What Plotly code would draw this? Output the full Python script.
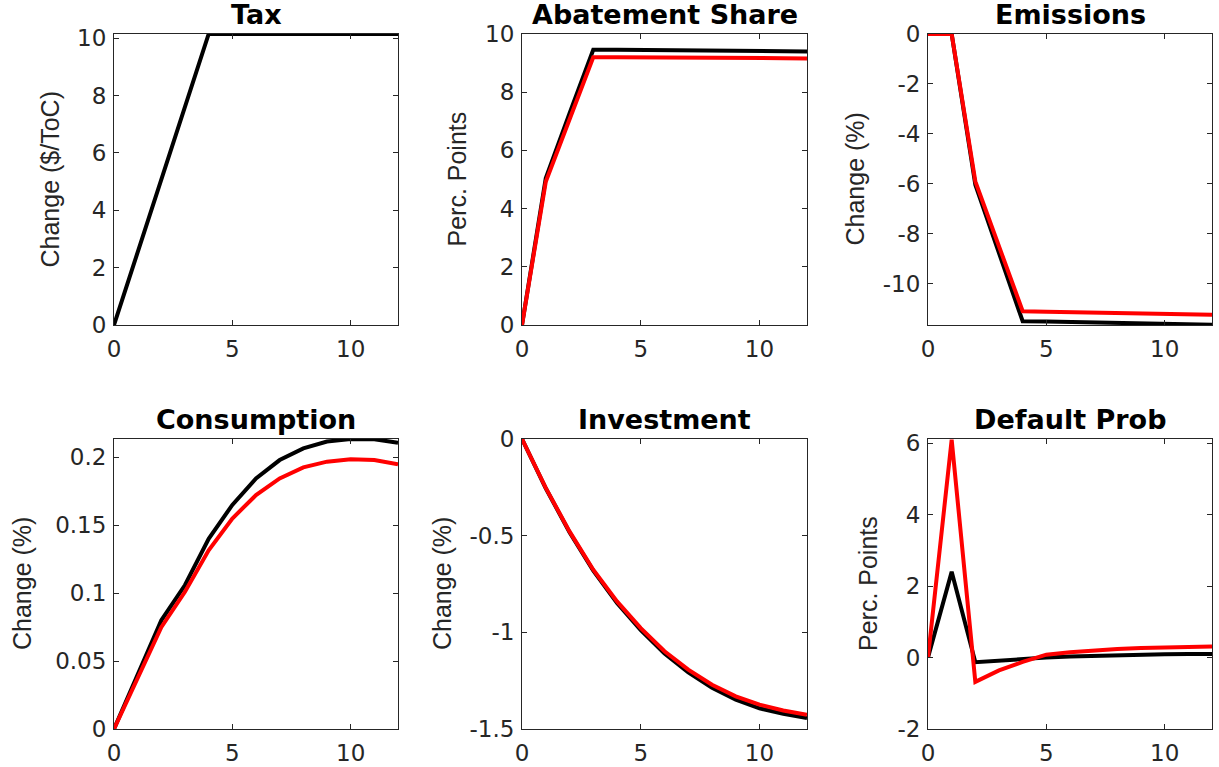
import plotly.graph_objects as go

t = list(range(13))

tax_black = [0, 2.54, 5.08, 7.61, 10.15, 10.15, 10.15, 10.15, 10.15, 10.15, 10.15, 10.15, 10.15]

abate_black = [0, 5.04, 7.27, 9.46, 9.46, 9.45, 9.45, 9.44, 9.43, 9.43, 9.42, 9.41, 9.40]
abate_red = [0, 4.92, 7.06, 9.20, 9.20, 9.20, 9.19, 9.19, 9.18, 9.18, 9.17, 9.17, 9.16]

emis_black = [0, 0, -6.04, -8.80, -11.50, -11.51, -11.53, -11.55, -11.57, -11.59, -11.61, -11.63, -11.64]
emis_red = [0, 0, -5.90, -8.50, -11.10, -11.12, -11.14, -11.15, -11.17, -11.19, -11.21, -11.23, -11.24]

cons_black = [0, 0.040, 0.080, 0.106, 0.140, 0.165, 0.1845, 0.198, 0.2066, 0.2116, 0.2135, 0.2133, 0.2108]
cons_red = [0, 0.037, 0.075, 0.101, 0.1316, 0.155, 0.1722, 0.1845, 0.1926, 0.1968, 0.1985, 0.198, 0.1948]

inv_black = [0, -0.255, -0.482, -0.681, -0.848, -0.988, -1.110, -1.207, -1.287, -1.348, -1.393, -1.421, -1.443]
inv_red = [0, -0.253, -0.478, -0.676, -0.840, -0.978, -1.098, -1.193, -1.271, -1.331, -1.374, -1.404, -1.426]

def_black = [0, 2.40, -0.13, -0.08, -0.04, 0.0, 0.03, 0.05, 0.07, 0.08, 0.09, 0.10, 0.10]
def_red = [0, 6.10, -0.68, -0.36, -0.12, 0.08, 0.15, 0.20, 0.24, 0.27, 0.29, 0.30, 0.31]

titles = ["Tax", "Abatement Share", "Emissions", "Consumption", "Investment", "Default Prob"]
ylabels = ["Change ($/ToC)", "Perc. Points", "Change (%)", "Change (%)", "Change (%)", "Perc. Points"]

xtick_vals = [0, 5, 10]
xtick_text = ["0", "5", "10"]

ytick_vals = [
    [0, 2, 4, 6, 8, 10],
    [0, 2, 4, 6, 8, 10],
    [-10, -8, -6, -4, -2, 0],
    [0, 0.05, 0.1, 0.15, 0.2],
    [-1.5, -1, -0.5, 0],
    [-2, 0, 2, 4, 6],
]
ytick_text = [
    ["0", "2", "4", "6", "8", "10"],
    ["0", "2", "4", "6", "8", "10"],
    ["-10", "-8", "-6", "-4", "-2", "0"],
    ["0", "0.05", "0.1", "0.15", "0.2"],
    ["-1.5", "-1", "-0.5", "0"],
    ["-2", "0", "2", "4", "6"],
]
y_ranges = [[0, 10.15], [0, 10], [-11.65, 0], [0, 0.2135], [-1.5, 0], [-2, 6.12]]

series = [
    (tax_black, None),
    (abate_black, abate_red),
    (emis_black, emis_red),
    (cons_black, cons_red),
    (inv_black, inv_red),
    (def_black, def_red),
]

W, H = 1219, 767
col_px = [(114, 398), (522, 807), (928, 1212)]
row_px = [(34, 325), (439, 729)]
ylab_offset = [64, 65, 73, 92, 80, 60]


def px(xp):
    return xp / W


def py(yp):
    return 1 - yp / H


fig = go.Figure()
axis_color = "#262626"
tick_font = dict(family="DejaVu Sans, Liberation Sans, Arial", size=23, color=axis_color)

for i in range(6):
    r, c = divmod(i, 3)
    n = i + 1
    xa = "x" if n == 1 else f"x{n}"
    ya = "y" if n == 1 else f"y{n}"
    black, red = series[i]
    fig.add_trace(go.Scatter(x=t, y=black, mode="lines", line=dict(color="black", width=4),
                             xaxis=xa, yaxis=ya, showlegend=False, hoverinfo="skip"))
    if red is not None:
        fig.add_trace(go.Scatter(x=t, y=red, mode="lines", line=dict(color="#ff0000", width=4),
                                 xaxis=xa, yaxis=ya, showlegend=False, hoverinfo="skip"))
    x0, x1 = col_px[c]
    y0, y1 = row_px[r]
    xdom = [px(x0), px(x1)]
    ydom = [py(y1), py(y0)]
    xkey = "xaxis" if n == 1 else f"xaxis{n}"
    ykey = "yaxis" if n == 1 else f"yaxis{n}"
    fig.update_layout(**{
        xkey: dict(domain=xdom, anchor=ya, range=[0, 12], tickvals=xtick_vals, ticktext=xtick_text,
                   showline=True, linecolor=axis_color, linewidth=1, mirror="ticks",
                   ticks="inside", ticklen=5, tickcolor=axis_color, showgrid=False, zeroline=False,
                   tickfont=tick_font, ticklabelstandoff=3, automargin=False),
        ykey: dict(domain=ydom, anchor=xa, range=y_ranges[i], tickvals=ytick_vals[i], ticktext=ytick_text[i],
                   showline=True, linecolor=axis_color, linewidth=1, mirror="ticks",
                   ticks="inside", ticklen=5, tickcolor=axis_color, showgrid=False, zeroline=False,
                   tickfont=tick_font, ticklabelstandoff=2, automargin=False),
    })
    # panel title
    fig.add_annotation(text=f"<b>{titles[i]}</b>", x=px((x0 + x1) / 2), y=py(y0 - 20),
                       xref="paper", yref="paper", xanchor="center", yanchor="middle", showarrow=False,
                       font=dict(family="DejaVu Sans, Liberation Sans, Arial", size=27, color="black"))
    # y-axis label
    fig.add_annotation(text=ylabels[i], x=px(x0 - ylab_offset[i]), y=py((y0 + y1) / 2),
                       xref="paper", yref="paper", xanchor="center", yanchor="middle", showarrow=False,
                       textangle=-90,
                       font=dict(family="Liberation Sans, Arial", size=25, color=axis_color))

fig.update_layout(width=W, height=H, margin=dict(l=0, r=0, t=0, b=0),
                  paper_bgcolor="white", plot_bgcolor="white", hovermode=False)

fig.write_html("out.html", config={"displayModeBar": False, "staticPlot": True},
               post_script="document.body.style.margin='0';document.body.style.overflow='hidden';")
